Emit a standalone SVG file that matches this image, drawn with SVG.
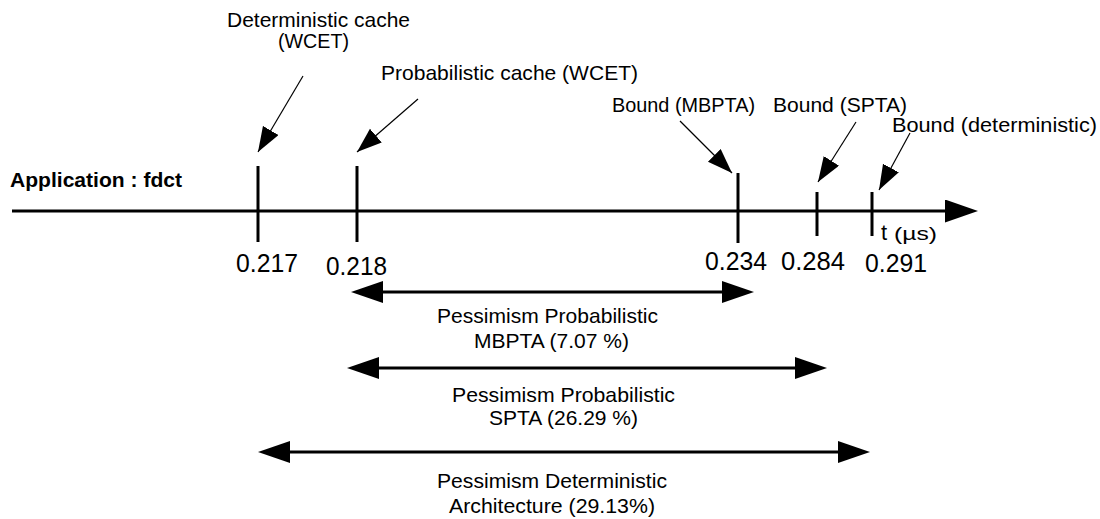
<svg xmlns="http://www.w3.org/2000/svg" width="1100" height="519" viewBox="0 0 1100 519">
  <style>
    text { font-family: "Liberation Sans", Arial, sans-serif; fill: #000; }
    .lbl { font-size: 21px; }
    .num { font-size: 25px; }
    .bold { font-size: 20.5px; font-weight: bold; }
    .axis { stroke: #000; stroke-width: 3; fill: none; }
    .tick { stroke: #000; stroke-width: 3; }
    .ptr { stroke: #000; stroke-width: 1.2; fill: none; }
    .span { stroke: #000; stroke-width: 3; fill: none; }
  </style>
  <defs>
    <marker id="axisHead" markerUnits="userSpaceOnUse" markerWidth="34" markerHeight="24" refX="5" refY="11.5" orient="auto">
      <path d="M0,0 L33,11.5 L0,23 z" fill="#000"/>
    </marker>
    <marker id="spanHead" markerUnits="userSpaceOnUse" markerWidth="33" markerHeight="23" refX="24" refY="11" orient="auto-start-reverse">
      <path d="M0,0 L32,11 L0,22 z" fill="#000"/>
    </marker>
    <marker id="ptrHead" markerUnits="userSpaceOnUse" markerWidth="26" markerHeight="19" refX="25" refY="9" orient="auto">
      <path d="M0,0 L25,9 L0,18 z" fill="#000"/>
    </marker>
  </defs>

  <rect width="1100" height="519" fill="#fff"/>

  <!-- time axis -->
  <g id="axis">
    <line class="axis" x1="12" y1="211" x2="950" y2="211" marker-end="url(#axisHead)"/>
    <text class="bold" x="10" y="187" textLength="172" lengthAdjust="spacingAndGlyphs">Application : fdct</text>
    <text x="881" y="240" style="font-size:22px">t</text>
    <text x="894" y="240" style="font-size:18px" textLength="43" lengthAdjust="spacingAndGlyphs">(µs)</text>
  </g>

  <!-- ticks with their values and captions -->
  <g id="det-cache">
    <line class="tick" x1="258" y1="166" x2="258" y2="242"/>
    <text class="num" x="236" y="272" textLength="62" lengthAdjust="spacingAndGlyphs">0.217</text>
    <text class="lbl" x="227" y="27" textLength="183" lengthAdjust="spacingAndGlyphs">Deterministic cache</text>
    <text class="lbl" x="278" y="48" textLength="71" lengthAdjust="spacingAndGlyphs">(WCET)</text>
  </g>
  <g id="prob-cache">
    <line class="tick" x1="357" y1="166" x2="357" y2="242"/>
    <text class="num" x="326" y="275" textLength="61" lengthAdjust="spacingAndGlyphs">0.218</text>
    <text class="lbl" x="381" y="80" textLength="257" lengthAdjust="spacingAndGlyphs">Probabilistic cache (WCET)</text>
  </g>
  <g id="bound-mbpta">
    <line class="tick" x1="738" y1="173" x2="738" y2="243"/>
    <text class="num" x="705" y="270" textLength="62" lengthAdjust="spacingAndGlyphs">0.234</text>
    <text class="lbl" x="612" y="112" textLength="143" lengthAdjust="spacingAndGlyphs">Bound (MBPTA)</text>
  </g>
  <g id="bound-spta">
    <line class="tick" x1="817" y1="192" x2="817" y2="236"/>
    <text class="num" x="781" y="270" textLength="64" lengthAdjust="spacingAndGlyphs">0.284</text>
    <text class="lbl" x="773" y="112" textLength="134" lengthAdjust="spacingAndGlyphs">Bound (SPTA)</text>
  </g>
  <g id="bound-det">
    <line class="tick" x1="872" y1="192" x2="872" y2="236"/>
    <text class="num" x="865" y="272" textLength="62" lengthAdjust="spacingAndGlyphs">0.291</text>
    <text class="lbl" x="892" y="132" textLength="205" lengthAdjust="spacingAndGlyphs">Bound (deterministic)</text>
  </g>

  <!-- pessimism spans -->
  <g id="pess-mbpta">
    <text class="lbl" x="437" y="323" textLength="221" lengthAdjust="spacingAndGlyphs">Pessimism Probabilistic</text>
    <text class="lbl" x="474" y="348" textLength="155" lengthAdjust="spacingAndGlyphs">MBPTA (7.07 %)</text>
  </g>
  <g id="pess-spta">
    <text class="lbl" x="452" y="402" textLength="223" lengthAdjust="spacingAndGlyphs">Pessimism Probabilistic</text>
    <text class="lbl" x="489" y="425" textLength="149" lengthAdjust="spacingAndGlyphs">SPTA (26.29 %)</text>
  </g>
  <g id="pess-det">
    <text class="lbl" x="437" y="488" textLength="230" lengthAdjust="spacingAndGlyphs">Pessimism Deterministic</text>
    <text class="lbl" x="449" y="513" textLength="206" lengthAdjust="spacingAndGlyphs">Architecture (29.13%)</text>
  </g>

  <!-- connectors -->
  <g id="connectors">
    <line class="ptr" x1="303" y1="76" x2="258" y2="152" marker-end="url(#ptrHead)"/>
    <line class="ptr" x1="418" y1="99" x2="357" y2="152" marker-end="url(#ptrHead)"/>
    <line class="ptr" x1="680" y1="121" x2="732" y2="173" marker-end="url(#ptrHead)"/>
    <line class="ptr" x1="856" y1="122" x2="818" y2="182" marker-end="url(#ptrHead)"/>
    <line class="ptr" x1="910" y1="133" x2="879" y2="190" marker-end="url(#ptrHead)"/>

    <line class="span" x1="359" y1="292" x2="746" y2="292" marker-start="url(#spanHead)" marker-end="url(#spanHead)"/>
    <line class="span" x1="355" y1="368" x2="819" y2="368" marker-start="url(#spanHead)" marker-end="url(#spanHead)"/>
    <line class="span" x1="266" y1="452" x2="862" y2="452" marker-start="url(#spanHead)" marker-end="url(#spanHead)"/>
  </g>
</svg>
